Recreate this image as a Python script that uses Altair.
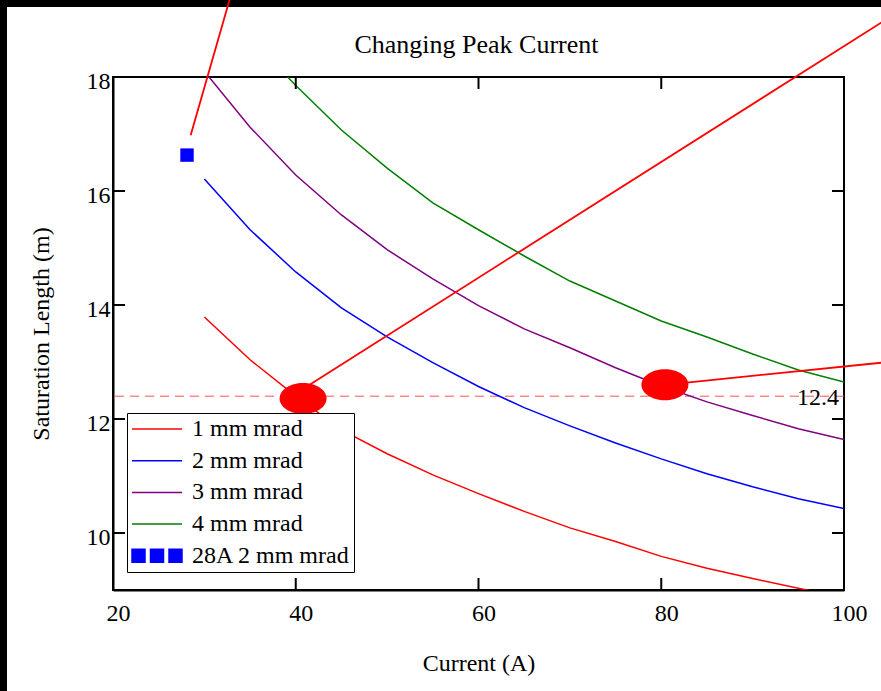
import altair as alt
import pandas as pd

# ---------------- data ----------------
chart_title = ["Changing Peak Current"]

currents = [30, 35, 40, 45, 50, 55, 60, 65, 70, 75, 80, 85, 90, 95, 100]
len_1mm = [13.79, 13.04, 12.40, 11.81, 11.39, 11.02, 10.69, 10.38, 10.09, 9.85, 9.59, 9.38, 9.20, 9.03, 8.87]
len_2mm = [16.21, 15.32, 14.58, 13.95, 13.44, 12.99, 12.57, 12.20, 11.88, 11.58, 11.30, 11.04, 10.81, 10.60, 10.43]
len_3mm = [18.10, 17.12, 16.28, 15.58, 14.97, 14.46, 13.99, 13.58, 13.25, 12.90, 12.58, 12.30, 12.06, 11.83, 11.64]
len_4mm = [19.80, 18.70, 17.85, 17.07, 16.40, 15.79, 15.32, 14.86, 14.42, 14.07, 13.72, 13.44, 13.14, 12.86, 12.65]

series_names = ["1 mm mrad", "2 mm mrad", "3 mm mrad", "4 mm mrad", "28A 2 mm mrad"]
series_colors = ["#ff0000", "#0000ff", "#800080", "#008000", "#0000ff"]

point_28a_current = [28.1]
point_28a_length = [16.63]

marker_current = [40.8, 80.4]
marker_length = [12.36, 12.60]

ref_level = [12.4]
ref_label = ["12.4"]

pointer_group = ["a", "a", "b", "b", "c", "c"]
pointer_current = [28.5, 33.0, 41.0, 106.1, 80.4, 106.1]
pointer_length = [16.98, 19.49, 12.55, 19.16, 12.60, 13.02]

x_ticks = [20, 40, 60, 80, 100]
y_ticks = [10, 12, 14, 16, 18]

# ---------------- layout / style ----------------
W, H = 731, 513
PAD_L, PAD_T = 113, 77
FONT = "Liberation Serif"
TICK = 12

curve_df = pd.DataFrame({
    "current": currents * 4,
    "length": len_1mm + len_2mm + len_3mm + len_4mm,
    "series": sum([[n] * len(currents) for n in series_names[:4]], []),
})

xs = alt.Scale(domain=[20, 100], nice=False, zero=False)
ys = alt.Scale(domain=[9, 18], nice=False, zero=False)
x_axis = alt.Axis(values=x_ticks, title="Current (A)", labelOffset=5, labelPadding=11,
                  labelFlush=False, labelOverlap=False, labelAngle=0, titlePadding=26)
y_axis = alt.Axis(values=y_ticks, title="Saturation Length (m)", labelOffset=4, labelPadding=3,
                  labelFlush=False, labelOverlap=False, titlePadding=33)
X = alt.X("current:Q", scale=xs, axis=x_axis)
Y = alt.Y("length:Q", scale=ys, axis=y_axis)

one = pd.DataFrame({"k": [0]})

frame_top = alt.Chart(one).mark_rect(color="black", clip=False).encode(
    x=alt.value(-PAD_L), x2=alt.value(881 - PAD_L), y=alt.value(-PAD_T), y2=alt.value(-PAD_T + 7))
frame_left = alt.Chart(one).mark_rect(color="black", clip=False).encode(
    x=alt.value(-PAD_L), x2=alt.value(-PAD_L + 7), y=alt.value(-PAD_T), y2=alt.value(691 - PAD_T))

title_df = pd.DataFrame({"t": chart_title})
title_text = alt.Chart(title_df).mark_text(
    font=FONT, fontSize=26, color="black", align="center", baseline="alphabetic", clip=False
).encode(x=alt.value(W / 2 - 2), y=alt.value(-24.5), text="t:N")

ref_df = pd.DataFrame({"length": ref_level, "label": ref_label, "current": [100]})
ref_rule = alt.Chart(ref_df).mark_rule(color="#ff5050", strokeDash=[9, 6], strokeWidth=1).encode(y=Y)
ref_text = alt.Chart(ref_df).mark_text(align="right", baseline="middle", dx=-5, dy=2,
                                       font=FONT, fontSize=24, color="black").encode(x=X, y=Y, text="label:N")

curves = alt.Chart(curve_df).mark_line(clip=True, strokeWidth=1.5).encode(
    x=X, y=Y,
    color=alt.Color("series:N", scale=alt.Scale(domain=series_names[:4], range=series_colors[:4]), legend=None),
)

sq_df = pd.DataFrame({"current": point_28a_current, "length": point_28a_length})
square = alt.Chart(sq_df).mark_point(shape="square", filled=True, size=180, color="#0000ff", opacity=1).encode(x=X, y=Y)

ellipse_path = "M-1,0A1,0.66,0,1,1,1,0A1,0.66,0,1,1,-1,0Z"
mk_df = pd.DataFrame({"current": marker_current, "length": marker_length})
markers = alt.Chart(mk_df).mark_point(shape=ellipse_path, filled=True, size=2209, color="#ff0000",
                                      opacity=1, clip=False).encode(x=X, y=Y)

ptr_df = pd.DataFrame({"current": pointer_current, "length": pointer_length, "g": pointer_group})
pointers = alt.Chart(ptr_df).mark_line(clip=False, color="#ff0000", strokeWidth=1.8).encode(
    x=X, y=Y, detail="g:N")

xt_df = pd.DataFrame({"current": x_ticks})
yt_df = pd.DataFrame({"length": y_ticks})
tick_style = dict(color="black", strokeWidth=2)
t_bottom = alt.Chart(xt_df).mark_rule(**tick_style).encode(x=X, y=alt.value(H), y2=alt.value(H - TICK))
t_top = alt.Chart(xt_df).mark_rule(**tick_style).encode(x=X, y=alt.value(0), y2=alt.value(TICK))
t_left = alt.Chart(yt_df).mark_rule(**tick_style).encode(y=Y, x=alt.value(0), x2=alt.value(TICK))
t_right = alt.Chart(yt_df).mark_rule(**tick_style).encode(y=Y, x=alt.value(W), x2=alt.value(W - TICK))

sq_path = "M-1,-0.26H-0.48V0.26H-1Z M-0.26,-0.26H0.26V0.26H-0.26Z M0.48,-0.26H1V0.26H0.48Z"
legend_shapes = ["stroke", "stroke", "stroke", "stroke", sq_path]
legend = alt.Legend(
    title=None, orient="none", legendX=14, legendY=336, direction="vertical",
    fillColor="white", strokeColor="black", padding=4,
    labelFont=FONT, labelFontSize=24, labelColor="black", labelLimit=400, labelOffset=9,
    symbolSize=2500, symbolStrokeWidth=1.5, symbolOpacity=1, symbolFillColor="#0000ff",
    clipHeight=24, rowPadding=7.7,
)
lg_df = pd.DataFrame({"series": series_names, "current": [60] * 5, "length": [14] * 5})
legend_layer = alt.Chart(lg_df).mark_point(opacity=0, strokeWidth=1.5).encode(
    x=X, y=Y,
    fill=alt.Fill("series:N", scale=alt.Scale(domain=series_names, range=series_colors), legend=legend),
    stroke=alt.Stroke("series:N", scale=alt.Scale(domain=series_names, range=series_colors), legend=legend),
    shape=alt.Shape("series:N", scale=alt.Scale(domain=series_names, range=legend_shapes), legend=legend),
)

chart = alt.layer(
    frame_top, frame_left, title_text, ref_rule, curves, square, t_bottom, t_top, t_left, t_right,
    pointers, markers, ref_text, legend_layer,
).properties(
    width=W, height=H,
    autosize=alt.AutoSizeParams(type="none"),
    padding={"left": PAD_L, "top": PAD_T, "right": 881 - PAD_L - W, "bottom": 691 - PAD_T - H},
).configure(background="white").configure_view(
    stroke="black", strokeWidth=2
).configure_axis(
    domainColor="black", domainWidth=2, ticks=False, tickSize=0, grid=False,
    labelFont=FONT, labelFontSize=24, labelColor="black",
    titleFont=FONT, titleFontSize=24, titleFontWeight="normal", titleColor="black",
)

chart.save("out.html", embed_options={"renderer": "svg", "actions": False})
